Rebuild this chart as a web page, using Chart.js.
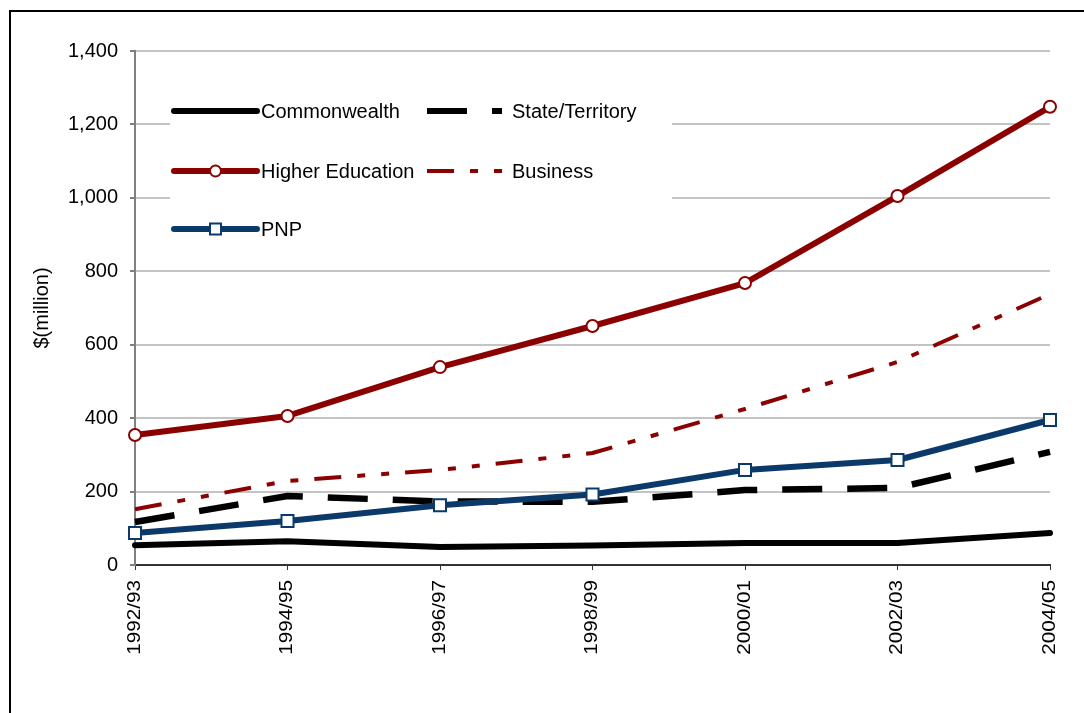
<!DOCTYPE html>
<html>
<head>
  <title>R&amp;D Expenditure by Sector</title>
  <script src="https://cdn.jsdelivr.net/npm/chart.js"></script>
  <style>
    body {
      margin: 0;
      padding: 0;
      background-color: white;
      overflow: hidden;
    }

    #wrap {
      position: relative;
      width: 1084px;
      height: 713px;
    }

    #frame {
      position: absolute;
      left: 9px;
      top: 10px;
      width: 1200px;
      height: 800px;
      border: 2px solid #000;
      pointer-events: none;
    }

    canvas {
      position: absolute;
      left: 0;
      top: 0;
    }
  </style>
</head>
<body>
  <div id="wrap">
    <canvas id="rdChart" width="1084" height="713"></canvas>
    <div id="frame"></div>
  </div>
  <script>
    const years = ['1992/93', '1994/95', '1996/97', '1998/99', '2000/01', '2002/03', '2004/05'];
    const commonwealth = [54, 65, 49, 53, 60, 60, 87];
    const stateTerritory = [117, 188, 173, 172, 204, 210, 308];
    const higherEducation = [354, 406, 539, 651, 768, 1005, 1248];
    const business = [152, 229, 259, 305, 425, 553, 738];
    const pnp = [87, 120, 163, 192, 259, 286, 395];
    const yTicks = [0, 200, 400, 600, 800, 1000, 1200, 1400];

    const FONT = '"Liberation Sans", Arial, sans-serif';
    const RED = '#8b0000';
    const BLUE = '#0b3a6a';

    // legend layout: two columns, three rows
    const legendItems = [
      { label: 'Commonwealth', color: '#000', width: 6, dash: [], marker: null, x: 174, y: 111 },
      { label: 'State/Territory', color: '#000', width: 6, dash: [40, 25], marker: null, x: 427, y: 111 },
      { label: 'Higher Education', color: RED, width: 6, dash: [], marker: 'circle', x: 174, y: 171 },
      { label: 'Business', color: RED, width: 4, dash: [27, 16, 8, 16, 8, 16], marker: null, x: 427, y: 171 },
      { label: 'PNP', color: BLUE, width: 6, dash: [], marker: 'rect', x: 174, y: 229 }
    ];

    const legendBox = {
      id: 'legendBox',
      beforeDatasetsDraw(chart) {
        const ctx = chart.ctx;
        ctx.save();
        ctx.fillStyle = '#fff';
        ctx.fillRect(170, 70, 502, 182);
        ctx.restore();
      },
      afterDatasetsDraw(chart) {
        const ctx = chart.ctx;
        ctx.save();
        legendItems.forEach(item => {
          const len = item.x === 174 ? 83 : 75;
          ctx.beginPath();
          ctx.setLineDash(item.dash);
          ctx.lineCap = item.dash.length ? 'butt' : 'round';
          ctx.strokeStyle = item.color;
          ctx.lineWidth = item.width;
          ctx.moveTo(item.x, item.y);
          ctx.lineTo(item.x + len, item.y);
          ctx.stroke();
          ctx.setLineDash([]);
          const mx = item.x + len / 2;
          if (item.marker === 'circle') {
            ctx.beginPath();
            ctx.arc(mx, item.y, 5.5, 0, Math.PI * 2);
            ctx.fillStyle = '#fff';
            ctx.fill();
            ctx.lineWidth = 2;
            ctx.stroke();
          } else if (item.marker === 'rect') {
            ctx.fillStyle = '#fff';
            ctx.fillRect(mx - 5.5, item.y - 5.5, 11, 11);
            ctx.lineWidth = 2;
            ctx.strokeRect(mx - 5.5, item.y - 5.5, 11, 11);
          }
          ctx.fillStyle = '#000';
          ctx.font = '20px ' + FONT;
          ctx.textBaseline = 'middle';
          ctx.textAlign = 'left';
          const tx = item.x === 174 ? 261 : 512;
          ctx.fillText(item.label, tx, item.y + 1);
        });
        ctx.restore();
      }
    };

    // rotated category labels, slightly stretched along the text
    const yearLabels = {
      id: 'yearLabels',
      afterDraw(chart) {
        const ctx = chart.ctx;
        const xs = chart.scales.x;
        ctx.save();
        ctx.fillStyle = '#000';
        ctx.font = '18px ' + FONT;
        ctx.textAlign = 'right';
        ctx.textBaseline = 'middle';
        years.forEach((lab, i) => {
          const x = xs.getPixelForTick(i);
          ctx.save();
          ctx.translate(x, 580);
          ctx.rotate(-Math.PI / 2);
          ctx.scale(1.15, 1);
          ctx.fillText(lab, 0, 0);
          ctx.restore();
        });
        ctx.restore();
      }
    };

    const ctx = document.getElementById('rdChart').getContext('2d');
    new Chart(ctx, {
      type: 'line',
      data: {
        labels: years,
        datasets: [
          {
            label: 'Higher Education',
            data: higherEducation,
            borderColor: RED,
            borderWidth: 6,
            pointStyle: 'circle',
            pointRadius: 6,
            pointBorderWidth: 2,
            pointBackgroundColor: '#fff',
            pointBorderColor: RED,
            clip: false
          },
          {
            label: 'PNP',
            data: pnp,
            borderColor: BLUE,
            borderWidth: 6,
            pointStyle: 'rect',
            pointRadius: 8.5,
            pointBorderWidth: 2,
            pointBackgroundColor: '#fff',
            pointBorderColor: BLUE,
            clip: false
          },
          {
            label: 'Commonwealth',
            data: commonwealth,
            borderColor: '#000',
            borderWidth: 6,
            borderCapStyle: 'round',
            pointRadius: 0,
            clip: false
          },
          {
            label: 'State/Territory',
            data: stateTerritory,
            borderColor: '#000',
            borderWidth: 6.5,
            borderDash: [40, 25],
            pointRadius: 0,
            clip: false
          },
          {
            label: 'Business',
            data: business,
            borderColor: RED,
            borderWidth: 4,
            borderDash: [27, 16, 8, 16, 8, 16],
            pointRadius: 0,
            clip: false
          }
        ]
      },
      options: {
        responsive: false,
        animation: false,
        layout: {
          padding: { top: 51, right: 34, bottom: 0, left: 0 }
        },
        elements: {
          line: { tension: 0, fill: false, borderJoinStyle: 'round' }
        },
        plugins: {
          legend: { display: false },
          tooltip: { enabled: false }
        },
        scales: {
          x: {
            type: 'category',
            offset: false,
            afterFit: s => { s.height = 148; },
            grid: {
              drawOnChartArea: false,
              tickLength: 5,
              tickColor: '#333',
              tickWidth: 1
            },
            border: { color: '#333', width: 2 },
            ticks: { display: false }
          },
          y: {
            min: 0,
            max: 1400,
            afterFit: s => { s.width = 135; },
            afterBuildTicks: s => { s.ticks = yTicks.map(v => ({ value: v })); },
            grid: {
              color: '#c4c4c4',
              lineWidth: 2,
              tickLength: 5,
              tickColor: '#000',
              tickWidth: 1
            },
            border: { color: '#808080', width: 2 },
            ticks: {
              color: '#000',
              padding: 12,
              font: { family: FONT, size: 20 },
              callback: v => v.toLocaleString('en-US')
            },
            title: {
              display: true,
              text: '$(million)',
              color: '#000',
              font: { family: FONT, size: 20 },
              padding: { top: 30, bottom: 0 }
            }
          }
        }
      },
      plugins: [legendBox, yearLabels]
    });
  </script>
</body>
</html>
